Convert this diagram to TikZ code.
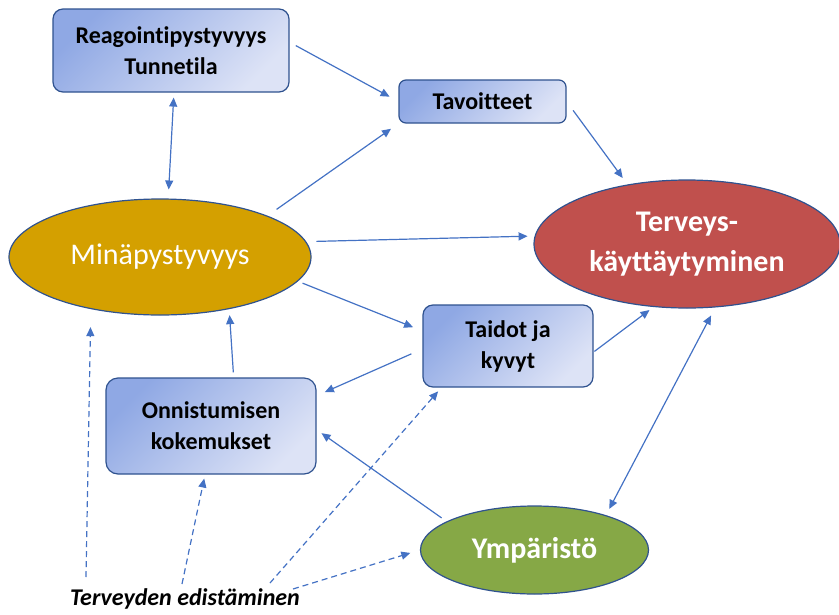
\documentclass[tikz,border=0pt]{standalone}
\usepackage{fontspec}
\setmainfont{Carlito}[Ligatures={NoCommon,NoRequired}]
\usepackage{tikz}
\usetikzlibrary{arrows.meta, shapes.geometric}
\definecolor{arrowblue}{HTML}{4472C4}
\definecolor{edgeblue}{HTML}{2F528F}
\definecolor{boxtop}{HTML}{8FA8E4}
\definecolor{boxbot}{HTML}{DDE3F6}
\definecolor{minagold}{HTML}{D4A000}
\definecolor{tervred}{HTML}{C0504D}
\definecolor{ympgreen}{HTML}{86A846}
\tikzset{every node/.append style={font=\fontsize{24}{31}\selectfont\bfseries}}

\begin{document}
\begin{tikzpicture}[x=1pt, y=-1pt, >={Triangle[width=8pt,length=9pt]},
    box/.style={draw=edgeblue, line width=1.2pt, rounded corners=10pt, top color=boxtop, bottom color=boxbot, shading angle=45, inner sep=0pt, align=center},
    blob/.style={ellipse, draw=edgeblue, line width=1.2pt, inner sep=0pt, text=white, align=center},
    link/.style={->, arrowblue, line width=1.2pt, shorten >=8pt, shorten <=7pt},
    hint/.style={link, dashed, dash pattern=on 6pt off 4pt, shorten <=0pt}]
    \useasboundingbox (0,0) rectangle (839,614);
    % boxes
    \node[box, minimum width=236pt, minimum height=83pt] (reag) at (171,50.5) {Reagointipystyvyys\\Tunnetila};
    \node[box, minimum width=167pt, minimum height=43pt, rounded corners=7pt] (tav) at (482.5,101.5) {Tavoitteet};
    \node[box, minimum width=170pt, minimum height=82pt] (taid) at (508,346) {Taidot ja\\kyvyt};
    \node[box, minimum width=210pt, minimum height=96pt, rounded corners=12pt] (onn) at (211,426) {Onnistumisen\\kokemukset};
    % ellipses
    \node[blob, fill=minagold, minimum width=302pt, minimum height=116pt, font=\fontsize{30}{36}\selectfont\mdseries] (mina) at (160,257) {Minäpystyvyys};
    \node[blob, fill=tervred, minimum width=306pt, minimum height=128pt, font=\fontsize{30}{40}\selectfont\bfseries] (terv) at (687,244) {Terveys-\\käyttäytyminen};
    \node[blob, fill=ympgreen, minimum width=228pt, minimum height=88pt, font=\fontsize{30}{36}\selectfont\bfseries] (ymp) at (534.5,550) {Ympäristö};
    % promotion label
    \node[anchor=base, font=\fontsize{24}{28}\selectfont\bfseries\itshape] (ted) at (185,605) {Terveyden edistäminen};
    \coordinate (p1) at (86,577);
    \coordinate (p2) at (182,584);
    \coordinate (p3) at (270,583);
    \coordinate (p4) at (293,589);
    % solid links
    \draw[link, shorten >=10pt] (reag.4) -- (tav.west);
    \draw[link, <->, shorten <=5pt, shorten >=9pt] (reag.-86) -- (mina.82);
    \draw[link, shorten <=11pt, shorten >=9pt] (mina.21) -- (tav.south west);
    \draw[link, shorten <=11pt] (tav.east) -- (terv.135);
    \draw[link, shorten <=10pt, shorten >=7pt] (mina.6) -- (terv.177);
    \draw[link, shorten <=5pt, shorten >=10pt] (mina.-10) -- (taid.170);
    \draw[link, shorten <=12pt, shorten >=9pt] (taid.182) -- (onn.16);
    \draw[link, shorten <=5pt, shorten >=6pt] (onn.65) -- (mina.-37);
    \draw[link, shorten <=1pt, shorten >=5pt] (taid.-4) -- (terv.-118);
    \draw[link, shorten <=6pt, shorten >=6pt] (ymp.162) -- (onn.-2);
    \draw[link, <->, shorten <=7pt, shorten >=9pt] (ymp.26) -- (terv.-66);
    % dashed links
    \draw[hint, shorten >=18pt] (p1) -- (mina.217);
    \draw[hint, shorten >=4pt] (p2) -- (onn.-97);
    \draw[hint, shorten >=5pt] (p3) -- (taid.-148);
    \draw[hint, shorten >=10pt] (p4) -- (ymp.west);
\end{tikzpicture}
\end{document}
